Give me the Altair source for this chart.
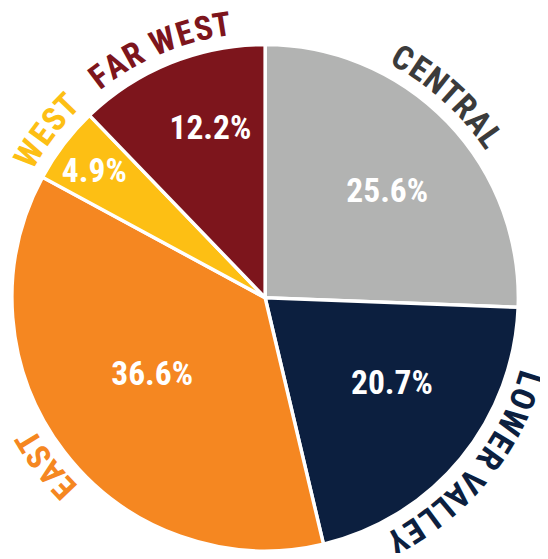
import altair as alt
import numpy as np
import pandas as pd

# ---- data ----
regions = ["CENTRAL", "LOWER VALLEY", "EAST", "WEST", "FAR WEST"]
shares = [25.6, 20.7, 36.6, 4.9, 12.2]
pct_labels = ["25.6%", "20.7%", "36.6%", "4.9%", "12.2%"]

# ---- style / layout ----
slice_colors = ["#b2b3b2", "#0c1f3f", "#f58721", "#fdbf14", "#7d151c"]
label_colors = ["#3b3b3b", "#0c1f3f", "#f58721", "#fdbf14", "#7d151c"]
pct_radius = [164, 156, 139, 215, 180]
pct_shift_deg = [3, -5, 3, -1, 4]
label_shift_deg = [-4, 0, 0, 0, -1]
FONT = "Roboto Condensed, Liberation Sans Narrow, Roboto, sans-serif"
PIE_R = 257
LABEL_R = 279
LABEL_FS = 34
PCT_FS = 34
LETTER_GAP = 1
CX, CY = 261, 290

# approximate advance widths (em) of a narrow bold face
char_w = {"A": .592, "C": .592, "E": .547, "F": .501, "L": .501, "N": .592,
          "R": .592, "S": .547, "T": .501, "V": .547, "W": .774, "Y": .547,
          "O": .638, " ": .228}

end = np.cumsum(shares)
start = end - np.array(shares)
mid = (start + end) / 2

slices = pd.DataFrame({
    "region": regions, "start": start, "end": end,
    "pos": mid + np.array(pct_shift_deg) / 3.6,
    "pct": pct_labels, "color": slice_colors, "r": pct_radius,
})

rows = []
for i, name in enumerate(regions):
    widths = [char_w[c] * LABEL_FS for c in name]
    total = sum(widths) + LETTER_GAP * (len(name) - 1)
    acc = 0.0
    for j, c in enumerate(name):
        center = acc + widths[j] / 2
        acc += widths[j] + LETTER_GAP
        off_deg = np.degrees((center - total / 2) / LABEL_R)
        deg = mid[i] * 3.6 + label_shift_deg[i] + off_deg
        if c != " ":
            rows.append({"ch": c, "theta": deg / 3.6, "angle": deg % 360,
                         "color": label_colors[i]})
chars = pd.DataFrame(rows)

tscale = alt.Scale(domain=[0, 100])

pie = alt.Chart(slices).mark_arc(radius=PIE_R, stroke="white", strokeWidth=3.5).encode(
    theta=alt.Theta("start:Q", scale=tscale),
    theta2="end:Q",
    color=alt.Color("color:N", scale=None),
    x=alt.value(CX), y=alt.value(CY),
)

pct = alt.Chart(slices).mark_text(
    font=FONT, fontSize=PCT_FS, fontWeight="bold", color="white",
    align="center", baseline="middle",
).encode(
    theta=alt.Theta("pos:Q", scale=tscale),
    radius=alt.Radius("r:Q", scale=None),
    text="pct:N",
    x=alt.value(CX), y=alt.value(CY),
)

labels = alt.Chart(chars).mark_text(
    font=FONT, fontSize=LABEL_FS, fontWeight="bold",
    align="center", baseline="middle", radius=LABEL_R,
).encode(
    theta=alt.Theta("theta:Q", scale=tscale),
    angle=alt.Angle("angle:Q", scale=None),
    color=alt.Color("color:N", scale=None),
    text="ch:N",
    x=alt.value(CX), y=alt.value(CY),
)

chart = alt.layer(pie, pct, labels).properties(
    width=540, height=545,
    autosize=alt.AutoSizeParams(type="none"),
    padding=0,
).configure_view(strokeWidth=0)

chart.save("out.html", embed_options={"renderer": "svg", "actions": False})
